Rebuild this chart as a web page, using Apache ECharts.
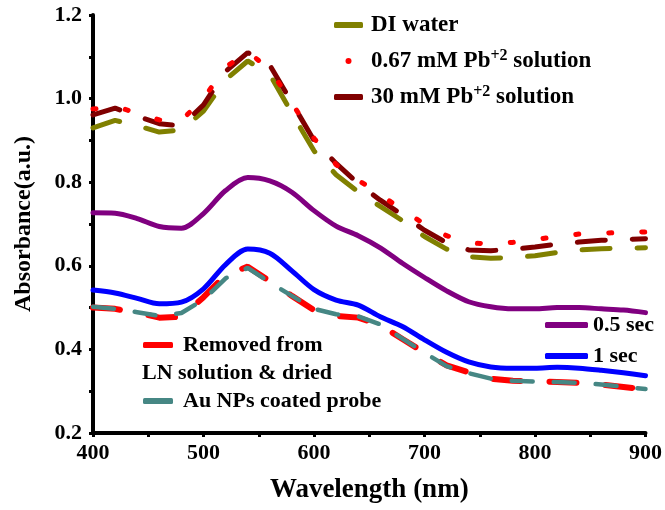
<!DOCTYPE html>
<html>
<head>
<meta charset="utf-8">
<script src="https://cdn.jsdelivr.net/npm/echarts@6/dist/echarts.min.js"></script>
<style>html,body{margin:0;padding:0;background:#fff}#c{width:665px;height:510px}</style>
</head>
<body>
<div id="c"></div>
<script>
const wavelengths = [400,420,440,460,480,500,520,540,560,580,600,620,640,660,680,700,720,740,760,780,800,820,840,860,880,900];
const diWater   = [0.930,0.948,0.935,0.920,0.925,0.970,1.045,1.090,1.058,0.965,0.875,0.818,0.777,0.742,0.708,0.670,0.640,0.622,0.618,0.620,0.624,0.632,0.638,0.641,0.642,0.643];
const pb067     = [0.975,0.982,0.965,0.949,0.948,1.000,1.075,1.112,1.070,0.990,0.905,0.842,0.805,0.771,0.733,0.700,0.672,0.655,0.652,0.656,0.663,0.670,0.676,0.678,0.680,0.681];
const pb30      = [0.961,0.977,0.958,0.940,0.935,0.985,1.065,1.110,1.080,0.990,0.900,0.845,0.797,0.757,0.722,0.685,0.655,0.638,0.636,0.640,0.645,0.652,0.657,0.661,0.663,0.665];
const sec05     = [0.727,0.726,0.713,0.694,0.690,0.725,0.780,0.811,0.803,0.776,0.732,0.695,0.672,0.643,0.606,0.572,0.540,0.514,0.502,0.497,0.497,0.500,0.500,0.497,0.494,0.488];
const sec1      = [0.542,0.535,0.522,0.509,0.513,0.545,0.603,0.640,0.630,0.588,0.543,0.518,0.506,0.478,0.455,0.423,0.393,0.370,0.358,0.355,0.355,0.357,0.355,0.350,0.344,0.337];
const removedLN = [0.500,0.497,0.488,0.476,0.478,0.525,0.578,0.598,0.563,0.528,0.494,0.480,0.476,0.458,0.425,0.392,0.362,0.345,0.330,0.325,0.324,0.322,0.320,0.316,0.310,0.304];
const auProbe   = [0.502,0.497,0.489,0.480,0.487,0.519,0.570,0.595,0.560,0.528,0.497,0.484,0.479,0.460,0.426,0.392,0.360,0.343,0.330,0.325,0.323,0.322,0.320,0.316,0.311,0.305];
const xTicks = [400,500,600,700,800,900];
const yTicks = [0.2,0.4,0.6,0.8,1.0,1.2];

const FONT = 'Liberation Serif';
const pair = arr => wavelengths.map((w,i)=>[w,arr[i]]);
function ser(name, data, color, width, dash, smooth, z){
  return {name, type:'line', data:pair(data), showSymbol:false, smooth:smooth, z:z,
    itemStyle:{color}, lineStyle:{color, width, type: dash || 'solid', cap:'round'}, animation:false};
}
const NAME_LN = 'Removed from LN solution & dried';
const series = [
  ser('0.5 sec', sec05, '#800080', 5, null, 0.3, 2),
  ser('1 sec', sec1, '#0000FF', 5, null, 0.3, 2),
  ser(NAME_LN, removedLN, '#FF0000', 6, [27,29], false, 3),
  ser('Au NPs coated probe', auProbe, '#468784', 4.5, [21,21], false, 4),
  ser('DI water', diWater, '#808000', 5, [28,27], false, 3),
  ser('0.67 mM Pb+2 solution', pb067, '#FF0000', 5, [3,30], false, 5),
  ser('30 mM Pb+2 solution', pb30, '#800000', 5, [28,27], false, 4)
];
function txt(size){
  return {fontFamily:FONT, fontWeight:'bold', fontSize:size, color:'#000', lineHeight:26,
    rich:{sup:{fontFamily:FONT, fontWeight:'bold', fontSize:16, color:'#000', lineHeight:26, verticalAlign:'top', padding:[0,0,8,0]}}};
}
const chart = echarts.init(document.getElementById('c'));
chart.setOption({
  backgroundColor:'#fff',
  animation:false,
  grid:{left:93, right:16, top:15, bottom:77},
  xAxis:{type:'value', min:400, max:900, interval:100,
    name:'Wavelength (nm)', nameLocation:'middle', nameGap:44,
    nameTextStyle:{fontFamily:FONT, fontWeight:'bold', fontSize:27, color:'#000'},
    axisLine:{show:true, lineStyle:{color:'#000', width:4}},
    axisTick:{show:true, inside:false, length:4, lineStyle:{color:'#000', width:3}},
    minorTick:{show:true, splitNumber:2, length:4, lineStyle:{color:'#000', width:3}},
    splitLine:{show:false},
    axisLabel:{margin:9, fontFamily:FONT, fontWeight:'bold', fontSize:22, color:'#000',
      formatter:v=>xTicks.includes(v)?String(v):''}
  },
  yAxis:{type:'value', min:0.2, max:1.2, interval:0.2,
    name:'Absorbance(a.u.)', nameLocation:'middle', nameGap:57,
    nameTextStyle:{fontFamily:FONT, fontWeight:'bold', fontSize:24, color:'#000'},
    axisLine:{show:true, lineStyle:{color:'#000', width:4}},
    axisTick:{show:true, inside:false, length:4, lineStyle:{color:'#000', width:3}},
    minorTick:{show:true, splitNumber:2, length:4, lineStyle:{color:'#000', width:3}},
    splitLine:{show:false},
    axisLabel:{margin:11, fontFamily:FONT, fontWeight:'bold', fontSize:22, color:'#000',
      formatter:v=>{const t=yTicks.find(k=>Math.abs(k-v)<1e-6);return t!==undefined?t.toFixed(1):'';}}
  },
  legend:[
    {orient:'vertical', left:329, top:7, itemWidth:29, itemHeight:6, itemGap:10, icon:'roundRect',
      data:['DI water',{name:'0.67 mM Pb+2 solution', icon:'circle'},'30 mM Pb+2 solution'],
      textStyle:Object.assign({padding:[0,0,0,3]}, txt(23)),
      formatter:n=>n.replace('Pb+2','Pb{sup|+2}'), selectedMode:false},
    {orient:'vertical', left:138, top:327, itemWidth:30, itemHeight:6, itemGap:30, icon:'roundRect',
      data:[NAME_LN,'Au NPs coated probe'],
      textStyle:Object.assign({padding:[0,0,0,5]}, txt(22)),
      formatter:n=>n===NAME_LN?'Removed from':n, selectedMode:false},
    {orient:'vertical', left:540, top:307, itemWidth:43, itemHeight:6, itemGap:5, icon:'roundRect',
      data:['0.5 sec','1 sec'], textStyle:txt(22), selectedMode:false}
  ],
  graphic:[{type:'text', left:142, top:362, style:{text:'LN solution & dried', fontFamily:FONT, fontWeight:'bold', fontSize:22, fill:'#000'}}],
  series
});
</script>
</body>
</html>
